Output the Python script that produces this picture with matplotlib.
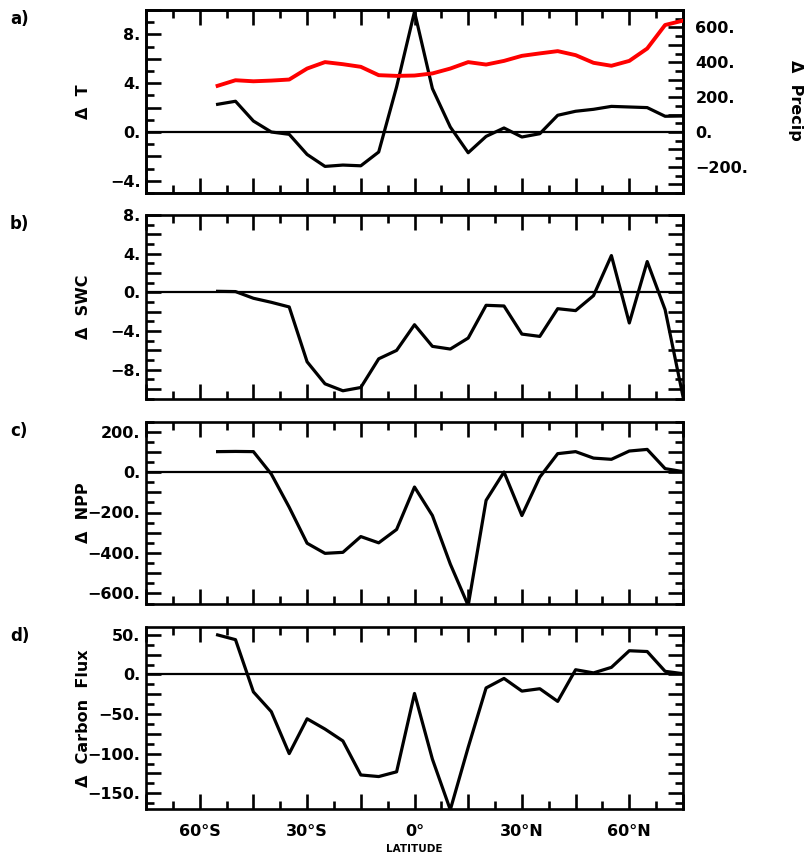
import matplotlib
matplotlib.use("Agg")
import matplotlib.pyplot as plt
from matplotlib.ticker import MultipleLocator, FuncFormatter

# ---------------- data ----------------
lat = [-55, -50, -45, -40, -35, -30, -25, -20, -15, -10, -5, 0, 5, 10, 15,
       20, 25, 30, 35, 40, 45, 50, 55, 60, 65, 70, 75]

delta_T = [2.27, 2.52, 0.9, 0.0, -0.19, -1.84, -2.82, -2.71, -2.77, -1.64, 3.7,
           9.86, 3.56, 0.41, -1.70, -0.36, 0.33, -0.41, -0.14, 1.37, 1.7, 1.86,
           2.1, 2.05, 2.0, 1.29, 1.31]

delta_precip = [265, 297, 291, 295, 301, 364, 401, 389, 374, 326, 322, 324, 336,
                364, 401, 387, 408, 437, 451, 464, 441, 397, 380, 408, 479, 614, 639]

delta_swc = [0.1, 0.07, -0.62, -1.04, -1.52, -7.2, -9.48, -10.2, -9.86, -6.89,
             -6.02, -3.36, -5.6, -5.88, -4.74, -1.35, -1.42, -4.33, -4.57, -1.7,
             -1.9, -0.35, 3.8, -3.18, 3.18, -1.8, -10.8]

delta_npp = [101, 102, 101, -10, -174, -352, -402, -397, -319, -350, -284, -74,
             -215, -455, -660, -140, 0, -215, -25, 91, 101, 69, 63, 104, 112, 17, 2]

delta_flux = [50, 44, -22, -47, -100, -56, -69, -84, -127, -129, -123, -24, -107,
              -171, -92, -17, -5, -21, -18, -34, 6, 2, 9, 30, 29, 4, 1]

xtick_vals = [-60, -30, 0, 30, 60]
xtick_labels = ["60°S", "30°S", "0°", "30°N", "60°N"]

panel_letters = ["a)", "b)", "c)", "d)"]
ylabels = ["Δ  T", "Δ  SWC", "Δ  NPP", "Δ  Carbon  Flux"]
right_label = "Δ  Precip"

# ---------------- style ----------------
plt.rcParams['font.family'] = ['DejaVu Sans']
plt.rcParams['font.weight'] = 'bold'
FS = 11.5

W, H = 808, 858
fig = plt.figure(figsize=(W / 100, H / 100), dpi=100)

left = 146 / W
width = (683 - 146) / W
tops = [10, 215, 421.5, 627]
bottoms = [193, 398.5, 603.5, 809]


def fmt_num(v, pos=None):
    s = f"{v:g}."
    return s.replace("-", "\u2212")


def style_axis(ax, ylim, label_step, major, minor, right_ticks=True):
    ax.set_xlim(-75, 75)
    ax.set_ylim(*ylim)
    for sp in ax.spines.values():
        sp.set_linewidth(1.9)
    ax.xaxis.set_major_locator(MultipleLocator(15))
    ax.xaxis.set_minor_locator(MultipleLocator(7.5))
    ax.yaxis.set_major_locator(MultipleLocator(major))
    ax.yaxis.set_minor_locator(MultipleLocator(minor))

    def yfmt(v, pos=None):
        r = v / label_step
        if abs(r - round(r)) < 1e-6:
            return fmt_num(round(v, 6))
        return ""
    ax.yaxis.set_major_formatter(FuncFormatter(yfmt))
    ax.tick_params(axis='both', which='major', direction='in', length=10.5,
                   width=1.9, labelsize=FS, top=True, right=right_ticks)
    ax.tick_params(axis='both', which='minor', direction='in', length=5.5,
                   width=1.9, top=True, right=right_ticks)
    ax.tick_params(axis='y', pad=4)


axes = []
for i in range(4):
    b = 1 - bottoms[i] / H
    h = (bottoms[i] - tops[i]) / H
    ax = fig.add_axes([left, b, width, h])
    axes.append(ax)

# panel a
ax = axes[0]
style_axis(ax, (-5, 10), 4, 2, 1, right_ticks=False)
ax.axhline(0, color='black', lw=1.6, zorder=2)
ax.plot(lat, delta_T, color='black', lw=2.3, zorder=3)
ax2 = ax.twinx()
ax2.set_ylim(-350, 700)
ax2.yaxis.set_major_locator(MultipleLocator(100))
ax2.yaxis.set_minor_locator(MultipleLocator(50))


def pfmt(v, pos=None):
    r = v / 200
    if abs(r - round(r)) < 1e-6:
        return fmt_num(round(v))
    return ""
ax2.yaxis.set_major_formatter(FuncFormatter(pfmt))
ax2.tick_params(axis='y', which='major', direction='in', length=10.5, width=1.9,
                labelsize=FS, pad=9)
ax2.tick_params(axis='y', which='minor', direction='in', length=5.5, width=1.9)
for sp in ax2.spines.values():
    sp.set_linewidth(1.9)
ax2.plot(lat, delta_precip, color='red', lw=2.8, zorder=3)

# panel b
ax = axes[1]
style_axis(ax, (-11, 8), 4, 2, 1)
ax.axhline(0, color='black', lw=1.6, zorder=2)
ax.plot(lat, delta_swc, color='black', lw=2.3, zorder=3)

# panel c
ax = axes[2]
style_axis(ax, (-650, 250), 200, 100, 50)
ax.axhline(0, color='black', lw=1.6, zorder=2)
ax.plot(lat, delta_npp, color='black', lw=2.3, zorder=3)

# panel d
ax = axes[3]
style_axis(ax, (-170, 60), 50, 25, 12.5)
ax.axhline(0, color='black', lw=1.6, zorder=2)
ax.plot(lat, delta_flux, color='black', lw=2.3, zorder=3)


def xfmt(v, pos=None):
    for tv, tl in zip(xtick_vals, xtick_labels):
        if abs(v - tv) < 1e-6:
            return tl
    return ""


for i, ax in enumerate(axes):
    if i == 3:
        ax.xaxis.set_major_formatter(FuncFormatter(xfmt))
        ax.tick_params(axis='x', labelsize=FS, pad=11)
    else:
        ax.set_xticklabels([])

# labels
label_x = 83 / W
for i, ax in enumerate(axes):
    yc = 1 - (tops[i] + bottoms[i]) / 2 / H
    fig.text(label_x, yc, ylabels[i], rotation=90, ha='center', va='center',
             fontsize=FS, fontweight='bold')
    fig.text(10 / W, 1 - (tops[i] + 9) / H, panel_letters[i], ha='left',
             va='center', fontsize=FS + 0.5, fontweight='bold')

fig.text(795 / W, 1 - 100 / H, right_label, rotation=-90, ha='center',
         va='center', fontsize=FS, fontweight='bold')
fig.text(414 / W, 1 - 849 / H, "LATITUDE", ha='center', va='center',
         fontsize=7.5, fontweight='bold')

fig.savefig("out.png", dpi=100)
